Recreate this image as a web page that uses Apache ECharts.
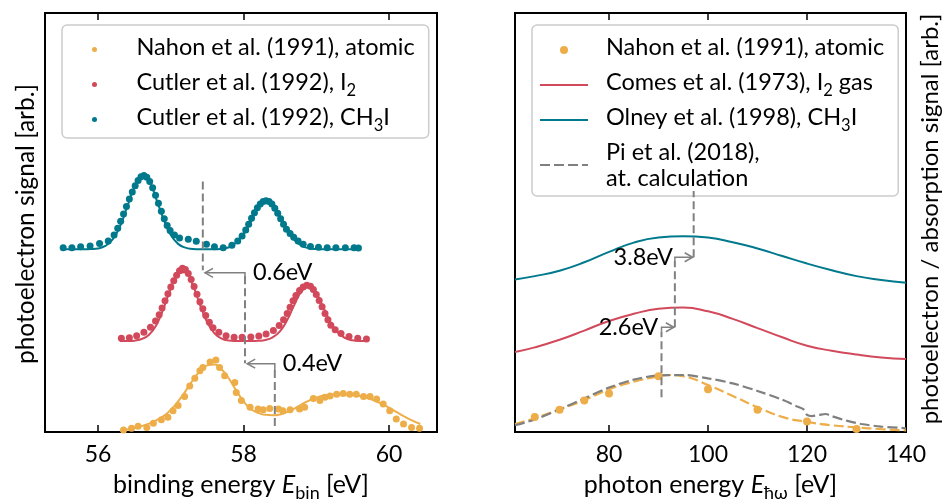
<!DOCTYPE html>
<html><head><meta charset="utf-8">
<script src="https://cdn.jsdelivr.net/npm/echarts@6/dist/echarts.min.js"></script>
<style>html,body{margin:0;padding:0;background:#fff}#c{width:944px;height:501px}</style>
</head><body><div id="c"></div>
<script>
// ---------- data (left panel: binding energy, eV; arbitrary offset units) ----------
const atomicLineX = [56.3,56.4,56.5,56.6,56.7,56.8,56.9,57.0,57.1,57.2,57.3,57.4,57.5,57.6,57.7,57.8,57.9,58.0,58.1,58.2,58.3,58.4,58.5,58.6,58.7,58.8,58.9,59.0,59.1,59.2,59.3,59.4,59.5,59.6,59.7,59.8,59.9,60.0,60.1,60.2,60.3,60.43];
const atomicLineY = [0.3,0.6,1.0,1.4,2.0,2.8,3.8,5.3,7.3,9.7,12.3,14.5,15.9,16.1,14.9,12.7,9.9,7.3,5.5,4.6,4.1,4.0,4.2,4.8,5.6,6.6,7.5,8.2,8.7,8.9,9.0,9.0,8.9,8.6,8.1,7.5,6.7,5.8,4.8,3.8,2.9,1.9];
const atomicPtsX = [56.35,56.46,56.55,56.67,56.76,56.87,56.96,57.03,57.10,57.19,57.26,57.33,57.40,57.44,57.54,57.62,57.67,57.74,57.88,57.90,57.97,58.09,58.20,58.27,58.36,58.48,58.54,58.64,58.77,58.84,58.96,59.05,59.12,59.19,59.28,59.37,59.46,59.55,59.65,59.74,59.83,59.92,60.01,60.10,60.20,60.31,60.42];
const atomicPtsY = [0.5,0.9,1.4,1.1,2.1,2.9,3.5,5.1,6.3,8.5,11.0,12.8,14.6,15.4,16.7,17.2,15.4,13.4,11.8,9.4,7.5,5.9,5.5,5.3,5.6,5.5,5.1,5.3,5.5,5.9,8.0,7.5,8.3,8.6,9.0,9.2,9.0,9.0,8.5,8.5,7.9,6.7,5.1,3.1,1.9,1.1,0.9];

const i2LineX = [56.3,56.4,56.5,56.6,56.7,56.8,56.9,57.0,57.1,57.2,57.3,57.4,57.5,57.6,57.7,57.8,57.9,58.0,58.1,58.2,58.3,58.4,58.5,58.6,58.7,58.8,58.9,59.0,59.1,59.2,59.3,59.4,59.5,59.6,59.7];
const i2LineY = [21.7,21.72,21.8,22.2,23.2,25.5,29.5,34.2,37.7,38.1,35.1,30.4,26.2,23.55,22.3,21.85,21.73,21.7,21.7,21.76,21.95,22.6,24.0,26.7,30.4,33.6,34.8,33.1,29.65,26.1,23.65,22.4,21.9,21.74,21.7];
const i2PtsX = [56.32,56.43,56.53,56.63,56.72,56.79,56.84,56.88,56.92,56.96,57.0,57.04,57.08,57.12,57.16,57.2,57.24,57.28,57.32,57.36,57.4,57.44,57.48,57.53,57.58,57.66,57.76,57.87,57.98,58.1,58.21,58.31,58.41,58.49,58.55,58.6,58.64,58.68,58.72,58.77,58.82,58.87,58.92,58.96,59.0,59.04,59.08,59.12,59.16,59.2,59.26,59.34,59.45,59.57,59.69];
const i2PtsY = [22.4,22.5,23.0,23.8,25.0,26.5,28.0,29.6,31.3,33.0,34.6,36.1,37.4,38.5,39.1,38.8,37.8,36.4,34.7,32.9,31.1,29.4,27.8,26.2,24.9,23.8,23.0,22.6,22.6,22.7,22.9,23.4,24.2,25.4,26.8,28.3,29.8,31.3,32.6,33.8,34.6,35.0,34.8,34.0,32.8,31.4,29.9,28.3,26.8,25.5,24.4,23.5,22.8,22.4,22.2];

const ch3iLineX = [55.5,55.6,55.7,55.8,55.9,56.0,56.1,56.2,56.3,56.4,56.5,56.6,56.7,56.8,56.9,57.0,57.1,57.2,57.3,57.4,57.5,57.6,57.7,57.8,57.9,58.0,58.1,58.2,58.3,58.4,58.5,58.6,58.7,58.8,58.9,59.0,59.1,59.2,59.3,59.4,59.5,59.6];
const ch3iLineY = [43.6,43.6,43.6,43.6,43.65,43.8,44.4,45.95,49.0,53.7,58.4,60.9,59.8,55.6,50.8,47.0,44.9,44.0,43.7,43.6,43.6,43.6,43.75,44.1,45.2,47.2,50.2,53.4,55.0,54.3,51.6,48.3,45.8,44.45,43.85,43.65,43.6,43.6,43.6,43.6,43.6,43.6];
const ch3iPtsX = [55.52,55.64,55.76,55.89,56.02,56.14,56.22,56.27,56.31,56.35,56.39,56.43,56.47,56.51,56.55,56.59,56.63,56.67,56.71,56.75,56.79,56.83,56.87,56.91,56.95,56.99,57.05,57.12,57.24,57.35,57.49,57.6,57.72,57.84,57.92,57.98,58.03,58.07,58.11,58.15,58.19,58.23,58.27,58.31,58.35,58.39,58.43,58.47,58.51,58.55,58.59,58.64,58.69,58.75,58.82,58.92,59.03,59.15,59.27,59.4,59.52,59.58];
const ch3iPtsY = [44.0,44.0,44.2,44.4,45.0,45.6,47.0,48.6,50.3,52.0,53.8,55.6,57.3,58.8,60.0,60.9,61.2,60.8,59.8,58.3,56.5,54.6,52.7,50.9,49.3,48.1,47.0,46.3,46.0,45.5,44.8,44.2,44.0,44.6,45.6,46.8,48.2,49.6,51.0,52.3,53.5,54.4,55.0,55.2,55.0,54.4,53.4,52.2,50.9,49.6,48.4,47.4,46.5,45.6,44.8,44.3,44.1,44.0,44.0,44.0,44.0,43.9];

// ---------- data (right panel: photon energy, eV) ----------
const photonX = [61,65,70,75,80,85,90,95,100,105,110,115,120,125,130,135,140];
const olneyY  = [36.4,37.2,38.5,40.5,43.0,45.2,46.4,46.7,46.4,45.3,43.8,42.0,40.2,38.6,37.2,36.3,35.6];
const comesY  = [19.1,20.2,22.0,24.2,26.5,28.2,29.4,29.7,28.8,27.0,24.8,22.6,20.6,19.4,18.5,17.8,17.4];
const nahonPtsX = [65,70,75,80,90,100,110,120,130];
const nahonPtsY = [3.6,5.3,7.5,9.2,13.3,10.2,5.3,2.5,0.7];
const nahonFitX = [61,65,70,75,80,85,90,92,95,100,105,110,115,120,125,130,135,140];
const nahonFitY = [1.9,3.3,5.4,7.6,10.2,12.0,13.3,13.6,13.3,11.2,8.6,5.9,3.6,2.4,1.6,1.1,0.7,0.4];
const piX = [61,65,70,75,80,85,90,95,100,105,110,115,118,119.3,120,121,122.5,123.8,125,128,131,135,140];
const piY = [1.6,3.0,5.4,8.0,10.6,12.5,13.5,13.6,12.8,11.6,9.8,7.7,6.1,5.4,4.1,3.8,4.1,4.3,3.8,2.7,1.9,1.3,0.9];

// ---------- tick labels ----------
const bindTicks = [56, 58, 60];
const photonTicks = [80, 100, 120, 140];

// ---------- annotations (data coordinates) ----------
const leftDashed  = [[57.44,59.8,57.44,38.6],[58.02,37.2,58.02,16.4],[58.43,14.8,58.43,0.5]];
const leftArrows  = [[[58.02,37.0],[58.02,38.0],[57.47,38.0]],[[58.43,14.8],[58.43,16.3],[58.05,16.3]]];
const leftLabels  = [[58.13,38.0,'0.6eV','left'],[58.54,16.3,'0.4eV','left']];
const rightDashed = [[90.6,8.3,90.6,24.0],[93.3,25.0,93.3,40.8],[97.1,41.7,97.1,57.5]];
const rightArrows = [[[90.6,24.0],[90.6,25.0],[93.1,25.0]],[[93.3,40.8],[93.3,41.7],[96.9,41.7]]];
const rightLabels = [[89.9,25.0,'2.6eV','right'],[92.9,41.7,'3.8eV','right']];

const zip = (a,b) => a.map((v,i)=>[v,b[i]]);
const FONT = 'Lato';
const C_OR = '#edae49', C_RD = '#d1495b', C_TL = '#00798c', C_GR = '#808080';

const NAME_AT = 'Nahon et al. (1991), atomic';
const NAME_I2 = 'Cutler et al. (1992), I₂';
const NAME_CH = 'Cutler et al. (1992), CH₃I';
const NAME_CO = 'Comes et al. (1973), I₂ gas';
const NAME_OL = 'Olney et al. (1998), CH₃I';
const NAME_PI = 'Pi et al. (2018),\nat. calculation';

function makeRich(fs, sub, lh) {
  return {
    t: {fontFamily: FONT, fontSize: fs, lineHeight: lh, padding: [0,0,5,0], verticalAlign: 'bottom', color: '#000'},
    s: {fontFamily: FONT, fontSize: sub, lineHeight: sub + 1, verticalAlign: 'bottom', color: '#000'},
    it:{fontFamily: FONT, fontSize: fs, lineHeight: lh, padding: [0,0,5,0], verticalAlign: 'bottom', fontStyle: 'italic', color: '#000'},
    p: {fontFamily: FONT, fontSize: fs, lineHeight: 26, color: '#000'}
  };
}
const richAxis = makeRich(25, 18, 28);
const richLegL = makeRich(23.5, 16.5, 29);
const richLegR = makeRich(23.5, 16.5, 28);

const legendFmt = {};
legendFmt[NAME_AT] = '{t|Nahon et al. (1991), atomic}';
legendFmt[NAME_I2] = '{t|Cutler et al. (1992), I}{s|2}';
legendFmt[NAME_CH] = '{t|Cutler et al. (1992), CH}{s|3}{t|I}';
legendFmt[NAME_CO] = '{t|Comes et al. (1973), I}{s|2}{t| gas}';
legendFmt[NAME_OL] = '{t|Olney et al. (1998), CH}{s|3}{t|I}';
legendFmt[NAME_PI] = '{p|Pi et al. (2018),}\n{p|at. calculation}';

function annot(idx, dashed, arrows, labels) {
  return {
    type: 'custom', xAxisIndex: idx*2, yAxisIndex: idx, silent: true, z: 4,
    data: [[dashed[0][0], dashed[0][1]]],
    renderItem: function (params, api) {
      const ch = [];
      dashed.forEach(d => {
        const p1 = api.coord([d[0], d[1]]), p2 = api.coord([d[2], d[3]]);
        ch.push({type: 'line', shape: {x1: p1[0], y1: p1[1], x2: p2[0], y2: p2[1]},
          style: {stroke: C_GR, lineWidth: 2, lineDash: [8, 4], fill: null}});
      });
      arrows.forEach(a => {
        const pts = a.map(p => api.coord(p));
        ch.push({type: 'polyline', shape: {points: pts}, style: {stroke: C_GR, lineWidth: 1.5, fill: null}});
        const T = pts[pts.length-1], P = pts[pts.length-2];
        const dx = T[0]-P[0], dy = T[1]-P[1], L = Math.hypot(dx, dy) || 1;
        const ux = dx/L, uy = dy/L, nx = -uy, ny = ux;
        const bx = T[0]-ux*8, by = T[1]-uy*8;
        ch.push({type: 'polyline', shape: {points: [[bx+nx*4.5, by+ny*4.5], T, [bx-nx*4.5, by-ny*4.5]]},
          style: {stroke: C_GR, lineWidth: 1.5, fill: null}});
      });
      labels.forEach(l => {
        const p = api.coord([l[0], l[1]]);
        ch.push({type: 'text', x: p[0], y: p[1],
          style: {text: l[2], fontFamily: FONT, fontSize: 23.5, fill: '#000', align: l[3], verticalAlign: 'middle'}});
      });
      return {type: 'group', children: ch};
    }
  };
}

function xAxes(gi, min, max, ticks, nameRich) {
  const tick = {inside: true, length: 7, customValues: ticks, lineStyle: {color: '#000', width: 1.5}};
  return [
    {type: 'value', gridIndex: gi, min: min, max: max, position: 'bottom',
     axisLine: {show: false}, splitLine: {show: false}, axisTick: tick,
     axisLabel: {customValues: ticks, margin: 11, fontFamily: FONT, fontSize: 23, color: '#000'},
     name: nameRich, nameLocation: 'middle', nameGap: 42,
     nameTextStyle: {rich: richAxis}},
    {type: 'value', gridIndex: gi, min: min, max: max, position: 'top',
     axisLine: {show: false}, splitLine: {show: false}, axisTick: tick,
     axisLabel: {show: false}}
  ];
}

const legendCommon = {
  orient: 'vertical', itemWidth: 48, itemGap: 6,
  backgroundColor: 'rgba(255,255,255,0.85)', borderColor: '#cccccc', borderWidth: 1.5, borderRadius: 5,
  selectedMode: false,
  formatter: n => legendFmt[n] || n
};

const option = {
  animation: false,
  backgroundColor: '#fff',
  grid: [
    {left: 45, top: 13, width: 392, height: 419, show: true, borderColor: '#000', borderWidth: 2, backgroundColor: 'transparent', containLabel: false, outerBoundsMode: 'none'},
    {left: 515, top: 13, width: 391, height: 419, show: true, borderColor: '#000', borderWidth: 2, backgroundColor: 'transparent', containLabel: false, outerBoundsMode: 'none'}
  ],
  xAxis: [].concat(
    xAxes(0, 55.27, 60.66, bindTicks, '{t|binding energy }{it|E}{s|bin}{t| [eV]}'),
    xAxes(1, 61, 140, photonTicks, '{t|photon energy }{it|E}{s|ħω}{t| [eV]}')
  ),
  yAxis: [
    {type: 'value', gridIndex: 0, min: 0, max: 100, show: false},
    {type: 'value', gridIndex: 1, min: 0, max: 100, show: false}
  ],
  legend: [
    Object.assign({}, legendCommon, {left: 62, top: 25, itemHeight: 5, padding: [10,14,4,30],
      textStyle: {fontFamily: FONT, fontSize: 23.5, color: '#000', padding: [0,0,0,13], rich: richLegL},
      data: [{name: NAME_AT, icon: 'circle'}, {name: NAME_I2, icon: 'circle'}, {name: NAME_CH, icon: 'circle'}]}),
    Object.assign({}, legendCommon, {left: 532, top: 25, itemHeight: 8, padding: [10,14,6,7],
      textStyle: {fontFamily: FONT, fontSize: 23.5, color: '#000', padding: [0,0,0,13], rich: richLegR},
      data: [{name: NAME_AT, icon: 'circle'},
             {name: NAME_CO, itemStyle: {opacity: 0}},
             {name: NAME_OL, itemStyle: {opacity: 0}},
             {name: NAME_PI, itemStyle: {opacity: 0}}]})
  ],
  graphic: [
    {type: 'text', x: 26, y: 224, rotation: Math.PI/2,
     style: {text: 'photoelectron signal [arb.]', fontFamily: FONT, fontSize: 24.5, fill: '#000', align: 'center', verticalAlign: 'middle'}},
    {type: 'text', x: 930, y: 219, rotation: Math.PI/2,
     style: {text: 'photoelectron / absorption signal [arb.]', fontFamily: FONT, fontSize: 24, fill: '#000', align: 'center', verticalAlign: 'middle'}}
  ],
  series: [
    // left panel
    {type: 'line', name: 'atomic fit', xAxisIndex: 0, yAxisIndex: 0, data: zip(atomicLineX, atomicLineY), smooth: true, showSymbol: false, symbol: 'none', lineStyle: {color: C_OR, width: 2}, z: 2},
    {type: 'scatter', name: NAME_AT, xAxisIndex: 0, yAxisIndex: 0, data: zip(atomicPtsX, atomicPtsY), symbolSize: 7, itemStyle: {color: C_OR, opacity: 1}, z: 3},
    {type: 'line', name: 'I2 fit', xAxisIndex: 0, yAxisIndex: 0, data: zip(i2LineX, i2LineY), smooth: true, showSymbol: false, symbol: 'none', lineStyle: {color: C_RD, width: 2}, z: 2},
    {type: 'scatter', name: NAME_I2, xAxisIndex: 0, yAxisIndex: 0, data: zip(i2PtsX, i2PtsY), symbolSize: 7, itemStyle: {color: C_RD, opacity: 1}, z: 3},
    {type: 'line', name: 'CH3I fit', xAxisIndex: 0, yAxisIndex: 0, data: zip(ch3iLineX, ch3iLineY), smooth: true, showSymbol: false, symbol: 'none', lineStyle: {color: C_TL, width: 2}, z: 2},
    {type: 'scatter', name: NAME_CH, xAxisIndex: 0, yAxisIndex: 0, data: zip(ch3iPtsX, ch3iPtsY), symbolSize: 7, itemStyle: {color: C_TL, opacity: 1}, z: 3},
    annot(0, leftDashed, leftArrows, leftLabels),
    // right panel
    {type: 'line', name: NAME_OL, xAxisIndex: 2, yAxisIndex: 1, data: zip(photonX, olneyY), smooth: true, showSymbol: false, symbol: 'none', lineStyle: {color: C_TL, width: 2}, itemStyle: {color: C_TL}, z: 2},
    {type: 'line', name: NAME_CO, xAxisIndex: 2, yAxisIndex: 1, data: zip(photonX, comesY), smooth: true, showSymbol: false, symbol: 'none', lineStyle: {color: C_RD, width: 2}, itemStyle: {color: C_RD}, z: 2},
    {type: 'line', name: 'Nahon dashed', xAxisIndex: 2, yAxisIndex: 1, data: zip(nahonFitX, nahonFitY), smooth: true, showSymbol: false, symbol: 'none', lineStyle: {color: C_OR, width: 2.2, type: [10, 4]}, z: 2},
    {type: 'line', name: NAME_PI, xAxisIndex: 2, yAxisIndex: 1, data: zip(piX, piY), smooth: 0.3, showSymbol: false, symbol: 'none', lineStyle: {color: C_GR, width: 2.2, type: [10, 4]}, itemStyle: {color: C_GR}, z: 2},
    {type: 'scatter', name: NAME_AT, xAxisIndex: 2, yAxisIndex: 1, data: zip(nahonPtsX, nahonPtsY), symbolSize: 8, itemStyle: {color: C_OR, opacity: 1}, z: 3},
    annot(1, rightDashed, rightArrows, rightLabels)
  ]
};

const chart = echarts.init(document.getElementById('c'), null, {renderer: 'canvas'});
chart.setOption(option);
</script>
</body></html>
